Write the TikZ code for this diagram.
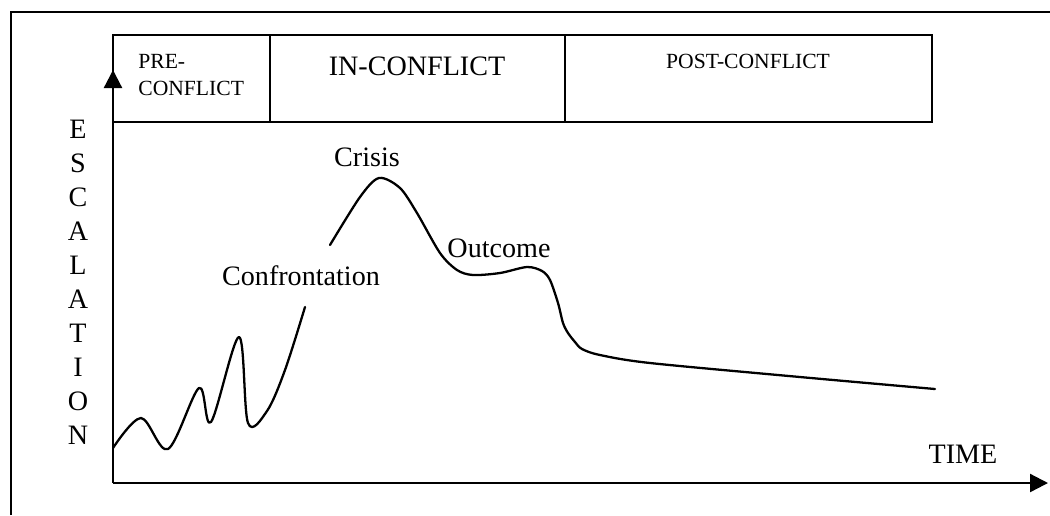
\documentclass[tikz,border=0pt]{standalone}
\usepackage{fontspec}
\setmainfont{Liberation Serif}
\usetikzlibrary{arrows.meta}
\tikzset{
  big/.style={font=\fontsize{16}{19}\selectfont, inner sep=0pt},
  small/.style={font=\fontsize{12.3}{14}\selectfont, inner sep=0pt},
  frame/.style={line width=1.5pt},
  axis/.style={line width=1.3pt, -{Triangle[length=0.36cm,width=0.36cm]}},
  phase/.style={line width=1.0pt},
  curve/.style={line width=1.3pt, line join=round, line cap=round}
}
\begin{document}
\begin{tikzpicture}[x=0.02cm, y=-0.02cm]
\useasboundingbox (0,0) rectangle (1050,515);
% outer frame
\draw[frame] (11,515) -- (11,12) -- (1050,12);
% phase boxes
\draw[phase] (113,35) rectangle (932,122);
\draw[phase] (270,35) -- (270,122);
\draw[phase] (565,35) -- (565,122);
\node[small, anchor=base west] (pre1) at (138,68) {PRE-};
\node[small, anchor=base west] (pre2) at (138,95) {CONFLICT};
\node[big, anchor=base] (inc) at (417,75) {IN-CONFLICT};
\node[small, anchor=base] (post) at (748,68) {POST-CONFLICT};
% axes
\coordinate (O) at (113,483);
\coordinate (ytop) at (113,70);
\coordinate (xend) at (1048,483);
\draw[axis] (O) -- (ytop);
\draw[axis] (O) -- (xend);
% vertical label
\foreach \ch [count=\i from 0] in {E,S,C,A,L,A,T,I,O,N} {
  \node[big, anchor=base] (esc\i) at (78,{138+34.1*\i}) {\ch};
}
\node[big, anchor=base] (time) at (963,463) {TIME};
% curve
\draw[curve] plot[smooth, tension=0.55] coordinates {
  (113,448) (141,418) (168,449) (199,388) (211,422) (239,337) (248,423)
  (267,411) (285,370) (305,307)};
\draw[curve] plot[smooth, tension=0.5] coordinates {
  (330,245) (360,197) (379,178) (400,188) (417,213) (440,253) (457,270)
  (473,275) (500,273) (527,267) (542,271) (550,280) (558,303) (563,323)
  (568,333) (575,342) (582,349) (600,355) (650,363) (800,377) (935,389)};
% labels
\node[big, anchor=base] (crisis) at (367,166) {Crisis};
\node[big, anchor=base] (outcome) at (499,257) {Outcome};
\node[big, anchor=base] (confr) at (301,285) {Confrontation};
\end{tikzpicture}
\end{document}
